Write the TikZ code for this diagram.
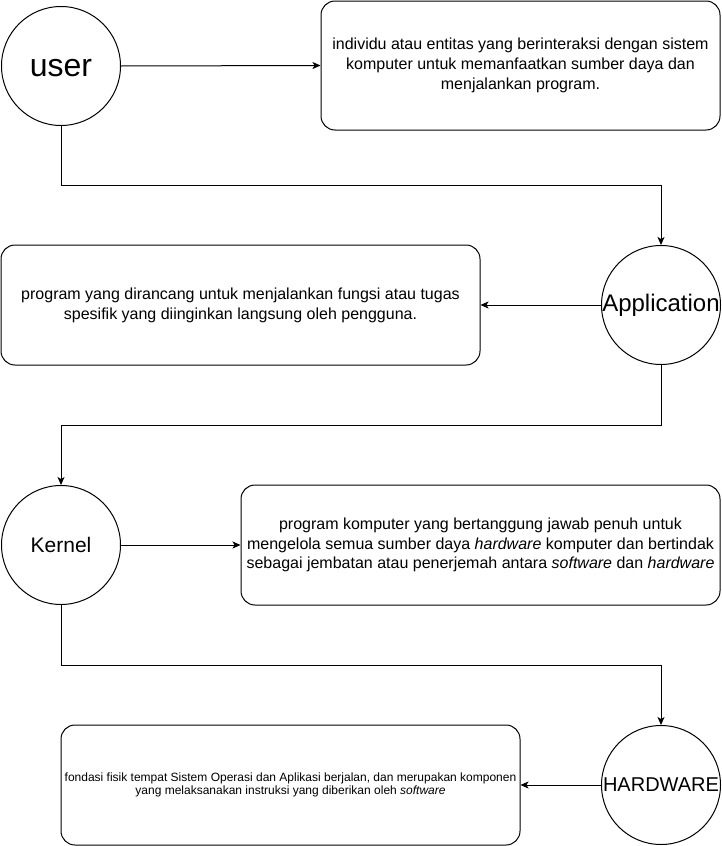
\documentclass[tikz,border=0pt]{standalone}
\usepackage{fontspec}
\setmainfont{Liberation Sans}
\usetikzlibrary{arrows.meta}
\begin{document}
\begin{tikzpicture}[x=1pt,y=-1pt,
  circ/.style={draw,circle,line width=1pt,minimum size=119pt,inner sep=0pt},
  infobox/.style={draw,rectangle,rounded corners=14pt,line width=1pt,inner sep=0pt,align=center},
  conn/.style={line width=1pt,-{Stealth[length=8pt,width=7pt,inset=2pt]}},
  boxtext/.style={font=\fontsize{16}{19.8}\selectfont}
]
\useasboundingbox (0,0) rectangle (721,846);

\node[circ,label={[font=\fontsize{32}{36}\selectfont,yshift=-2pt]center:user}] (user) at (61,66) {};
\node[circ,label={[font=\fontsize{24}{28}\selectfont]center:Application}] (app) at (661,305) {};
\node[circ,label={[font=\fontsize{21}{25}\selectfont]center:Kernel}] (kernel) at (61,545) {};
\node[circ,label={[font=\fontsize{20}{24}\selectfont]center:HARDWARE}] (hw) at (661,785) {};

\node[infobox,boxtext,minimum width=399pt,minimum height=129pt] (b1) at (520.5,65.5)
  {individu atau entitas yang berinteraksi dengan sistem\\komputer untuk memanfaatkan sumber daya dan\\menjalankan program.};
\node[infobox,boxtext,minimum width=479pt,minimum height=120pt] (b2) at (240.5,305)
  {program yang dirancang untuk menjalankan fungsi atau tugas\\spesifik yang diinginkan langsung oleh pengguna.};
\node[infobox,boxtext,minimum width=479pt,minimum height=120pt] (b3) at (480.5,545)
  {program komputer yang bertanggung jawab penuh untuk\\mengelola semua sumber daya \textit{hardware} komputer dan bertindak\\sebagai jembatan atau penerjemah antara \textit{software} dan \textit{hardware}};
\node[infobox,font=\fontsize{12}{13.5}\selectfont,minimum width=459pt,minimum height=120pt] (b4) at (290.5,785)
  {fondasi fisik tempat Sistem Operasi dan Aplikasi berjalan, dan merupakan komponen\\yang melaksanakan instruksi yang diberikan oleh \textit{software}};

\draw[conn] (user.east) -- (b1.west);
\draw[conn] (app.west) -- (b2.east);
\draw[conn] (kernel.east) -- (b3.west);
\draw[conn] (hw.west) -- (b4.east);

\draw[conn] (user.south) -- ++(0,59) -| (app.north);
\draw[conn] (app.south) -- ++(0,60) -| (kernel.north);
\draw[conn] (kernel.south) -- ++(0,60) -| (hw.north);
\end{tikzpicture}
\end{document}
